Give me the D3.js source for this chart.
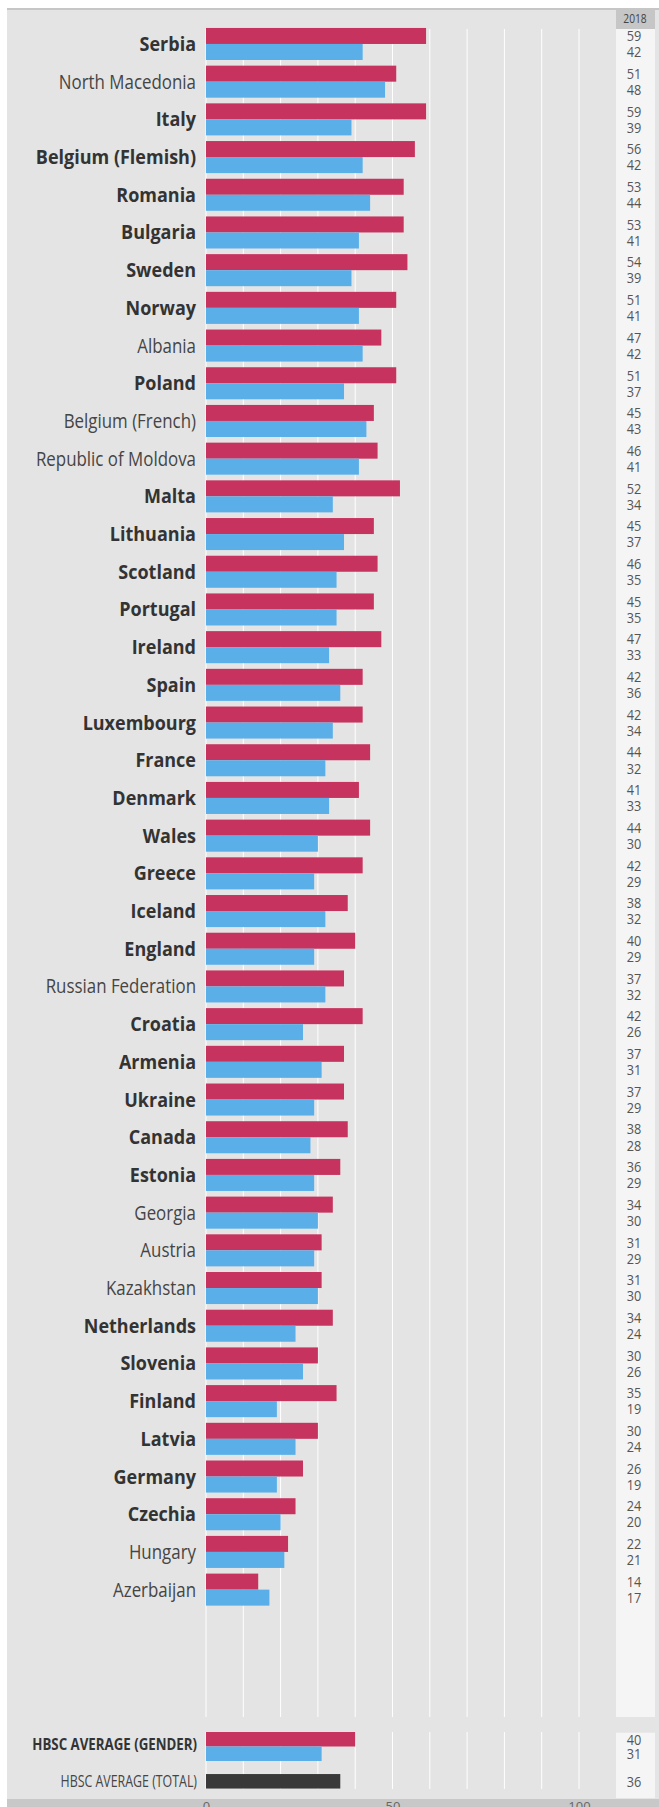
<!DOCTYPE html>
<html>
<head>
<meta charset="utf-8">
<script src="https://cdn.jsdelivr.net/npm/d3@7"></script>
<style>
  html, body { margin: 0; padding: 0; background: #fff; }
  svg { display: block; font-family: "Open Sans", sans-serif; }
</style>
</head>
<body>
<div id="chart"></div>
<script>
/* Global constants */
const WIDTH = 659
const HEIGHT = 1807
const COLORS = {"GIRLS": "#c7335f", "BOYS": "#5aafe9", "TOTAL": "#393939", "BG": "#e4e4e4", "PANEL": "#f5f5f5", "HEADER": "#c6c6c6", "TEXT": "#3a3a3a", "VALUE": "#555"}
const PLOT = {"LEFT": 206, "RIGHT": 579, "TOP": 29, "BOTTOM": 1717, "AVG_TOP": 1732, "AVG_BOTTOM": 1789}
const PANEL = {"X": 616, "WIDTH": 39, "CENTER": 634}
const LABEL_X = 196

/* Data */
const YEAR = "2018"
const COUNTRIES = ["Serbia", "North Macedonia", "Italy", "Belgium (Flemish)", "Romania", "Bulgaria", "Sweden", "Norway", "Albania", "Poland",
  "Belgium (French)", "Republic of Moldova", "Malta", "Lithuania", "Scotland", "Portugal", "Ireland", "Spain", "Luxembourg", "France",
  "Denmark", "Wales", "Greece", "Iceland", "England", "Russian Federation", "Croatia", "Armenia", "Ukraine", "Canada",
  "Estonia", "Georgia", "Austria", "Kazakhstan", "Netherlands", "Slovenia", "Finland", "Latvia", "Germany", "Czechia",
  "Hungary", "Azerbaijan"]
const GIRLS = [59, 51, 59, 56, 53, 53, 54, 51, 47, 51, 45, 46, 52, 45, 46, 45, 47, 42, 42, 44, 41, 44, 42, 38, 40, 37, 42, 37, 37, 38, 36, 34, 31, 31, 34, 30, 35, 30, 26, 24, 22, 14]
const BOYS = [42, 48, 39, 42, 44, 41, 39, 41, 42, 37, 43, 41, 34, 37, 35, 35, 33, 36, 34, 32, 33, 30, 29, 32, 29, 32, 26, 31, 29, 28, 29, 30, 29, 30, 24, 26, 19, 24, 19, 20, 21, 17]
// countries with a significant gender difference (printed in bold)
const SIGNIFICANT = ["Serbia", "Italy", "Belgium (Flemish)", "Romania", "Bulgaria", "Sweden", "Norway", "Poland", "Malta", "Lithuania",
  "Scotland", "Portugal", "Ireland", "Spain", "Luxembourg", "France", "Denmark", "Wales", "Greece", "Iceland", "England", "Croatia",
  "Armenia", "Ukraine", "Canada", "Estonia", "Netherlands", "Slovenia", "Finland", "Latvia", "Germany", "Czechia"]
const AVERAGE_LABELS = ["HBSC AVERAGE (GENDER)", "HBSC AVERAGE (TOTAL)"]
const AVERAGE_GENDER = [40, 31]
const AVERAGE_TOTAL = 36
const AXIS_TICKS = [0, 50, 100]

/* Helper functions */
const isBold = (d) => SIGNIFICANT.includes(d)
const condensed = (x, y, s) => "translate(" + x + "," + y + ") scale(" + s + ",1)"

/* SVG definitions */
const svg = d3.select("#chart")
              .append("svg")
              .attr("width", WIDTH)
              .attr("height", HEIGHT);

const x = d3.scaleLinear()
            .domain([0, 100])
            .range([PLOT.LEFT, PLOT.RIGHT]);
const y = d3.scaleBand()
            .domain(COUNTRIES)
            .range([22.3, 1611.3])
            .paddingInner(0.15)
            .paddingOuter(0.15);
const ySub = d3.scaleBand()
               .domain(["girls", "boys"])
               .range([0, y.bandwidth()]);
const yAvg = d3.scaleBand()
               .domain(AVERAGE_LABELS)
               .range([PLOT.AVG_TOP, 1795.8])
               .paddingInner(0.1667);
const ySubAvg = d3.scaleBand()
                  .domain(["girls", "boys"])
                  .range([0, yAvg.bandwidth()]);

/* Background, frame and value panel */
svg.append("rect").attr("x", 7).attr("y", 8).attr("width", WIDTH - 7).attr("height", HEIGHT - 8).attr("fill", COLORS.BG);
svg.append("rect").attr("x", 7).attr("y", 8).attr("width", WIDTH - 7).attr("height", 2).attr("fill", "#c6c6c6");
svg.append("rect").attr("x", 7).attr("y", 1799).attr("width", WIDTH - 7).attr("height", 8).attr("fill", "#c8c8c8");
svg.append("rect").attr("x", PANEL.X).attr("y", 8).attr("width", PANEL.WIDTH).attr("height", PLOT.TOP - 8).attr("fill", COLORS.HEADER);
svg.append("rect").attr("x", PANEL.X).attr("y", PLOT.TOP).attr("width", PANEL.WIDTH).attr("height", PLOT.BOTTOM - PLOT.TOP).attr("fill", COLORS.PANEL);
svg.append("rect").attr("x", PANEL.X).attr("y", 1732.7).attr("width", PANEL.WIDTH).attr("height", 1798 - 1732.7).attr("fill", COLORS.PANEL);
svg.append("text")
   .attr("transform", condensed(PANEL.CENTER + 1, 18.5, 0.85))
   .attr("text-anchor", "middle")
   .attr("dy", "0.35em")
   .attr("font-size", 12)
   .attr("fill", "#444")
   .text(YEAR);

/* Gridlines */
[[PLOT.TOP, PLOT.BOTTOM], [PLOT.AVG_TOP, PLOT.AVG_BOTTOM]].forEach((span) => {
  svg.append("g")
     .selectAll("line")
     .data(x.ticks(10))
     .enter()
     .append("line")
     .attr("x1", (d) => x(d))
     .attr("x2", (d) => x(d))
     .attr("y1", span[0])
     .attr("y2", span[1])
     .attr("stroke", "#fff")
     .attr("stroke-width", 1);
});

/* Country bars */
const rows = svg.append("g")
                .selectAll("g")
                .data(COUNTRIES)
                .enter()
                .append("g")
                .attr("transform", (d) => "translate(0," + y(d) + ")");
rows.append("rect")
    .attr("x", x(0))
    .attr("y", ySub("girls"))
    .attr("width", (d, i) => x(GIRLS[i]) - x(0))
    .attr("height", ySub.bandwidth())
    .attr("fill", COLORS.GIRLS);
rows.append("rect")
    .attr("x", x(0))
    .attr("y", ySub("boys"))
    .attr("width", (d, i) => x(BOYS[i]) - x(0))
    .attr("height", ySub.bandwidth())
    .attr("fill", COLORS.BOYS);
rows.append("text")
    .attr("transform", condensed(LABEL_X, y.bandwidth() / 2, 1))
    .attr("text-anchor", "end")
    .attr("dy", "0.35em")
    .attr("font-size", 20)
    .attr("font-weight", (d) => isBold(d) ? 700 : 400)
    .attr("fill", (d) => isBold(d) ? "#333" : "#454545")
    .attr("transform", (d) => condensed(LABEL_X, y.bandwidth() / 2, isBold(d) ? 0.9 : 0.845))
    .text((d) => d);
rows.append("text")
    .attr("transform", condensed(PANEL.CENTER, ySub("girls") + ySub.bandwidth() / 2, 0.85))
    .attr("text-anchor", "middle")
    .attr("dy", "0.35em")
    .attr("font-size", 15)
    .attr("fill", COLORS.VALUE)
    .text((d, i) => GIRLS[i]);
rows.append("text")
    .attr("transform", condensed(PANEL.CENTER, ySub("boys") + ySub.bandwidth() / 2, 0.85))
    .attr("text-anchor", "middle")
    .attr("dy", "0.35em")
    .attr("font-size", 15)
    .attr("fill", COLORS.VALUE)
    .text((d, i) => BOYS[i]);

/* HBSC averages */
const avg = svg.append("g");
const gy = yAvg(AVERAGE_LABELS[0]);
const ty = yAvg(AVERAGE_LABELS[1]);
avg.selectAll("rect.gender")
   .data(AVERAGE_GENDER)
   .enter()
   .append("rect")
   .attr("class", "gender")
   .attr("x", x(0))
   .attr("y", (d, i) => gy + ySubAvg(i === 0 ? "girls" : "boys"))
   .attr("width", (d) => x(d) - x(0))
   .attr("height", ySubAvg.bandwidth())
   .attr("fill", (d, i) => i === 0 ? COLORS.GIRLS : COLORS.BOYS);
avg.selectAll("text.gender")
   .data(AVERAGE_GENDER)
   .enter()
   .append("text")
   .attr("class", "gender")
   .attr("transform", (d, i) => condensed(PANEL.CENTER, gy + ySubAvg(i === 0 ? "girls" : "boys") + ySubAvg.bandwidth() / 2, 0.85))
   .attr("text-anchor", "middle")
   .attr("dy", "0.35em")
   .attr("font-size", 15)
   .attr("fill", COLORS.VALUE)
   .text((d) => d);
avg.append("rect")
   .attr("x", x(0))
   .attr("y", ty + yAvg.bandwidth() / 4)
   .attr("width", x(AVERAGE_TOTAL) - x(0))
   .attr("height", yAvg.bandwidth() / 2)
   .attr("fill", COLORS.TOTAL);
avg.append("text")
   .attr("transform", condensed(PANEL.CENTER, ty + yAvg.bandwidth() / 2, 0.85))
   .attr("text-anchor", "middle")
   .attr("dy", "0.35em")
   .attr("font-size", 15)
   .attr("fill", COLORS.VALUE)
   .text(AVERAGE_TOTAL);
avg.selectAll("text.label")
   .data(AVERAGE_LABELS)
   .enter()
   .append("text")
   .attr("class", "label")
   .attr("transform", (d, i) => condensed(LABEL_X + 1, yAvg(d) + yAvg.bandwidth() / 2 - (i === 0 ? 2 : 0), i === 0 ? 0.83 : 0.8))
   .attr("text-anchor", "end")
   .attr("dy", "0.35em")
   .attr("font-size", (d, i) => i === 0 ? 16 : 15.5)
   .attr("font-weight", (d, i) => i === 0 ? 700 : 400)
   .attr("fill", (d, i) => i === 0 ? "#333" : "#454545")
   .text((d) => d);

/* Bottom axis, mostly cut off by the page edge */
const xAxis = d3.axisBottom(x).tickValues(AXIS_TICKS).tickSize(0).tickPadding(9);
svg.append("g")
   .attr("transform", "translate(0,1793)")
   .call(xAxis)
   .call((g) => g.select(".domain").remove())
   .selectAll("text")
   .attr("font-family", "Open Sans, sans-serif")
   .attr("font-size", 13)
   .attr("fill", "#666");
</script>
</body>
</html>
